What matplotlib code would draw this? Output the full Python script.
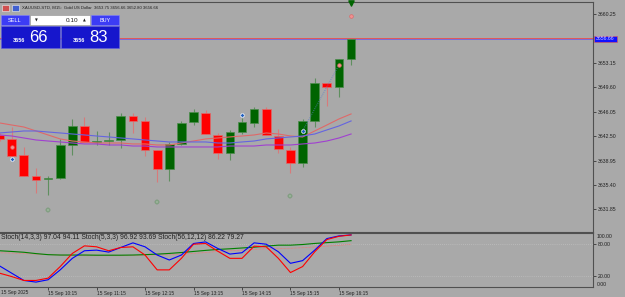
"""XAUUSD M15 chart with moving averages and stochastics, MetaTrader style."""

import matplotlib

matplotlib.use("Agg")
import matplotlib.pyplot as plt
from matplotlib.patches import Rectangle

W, H = 625, 297
BG = "#a9a9a9"
FONT = ["Liberation Sans", "DejaVu Sans"]

# 15 Sep 2025, bars from 09:15 to 16:30
OPEN = [3642.68, 3642.10, 3639.76, 3636.71, 3636.27, 3636.42, 3641.22, 3643.99, 3641.66, 3641.80,
        3641.95, 3645.44, 3644.72, 3640.49, 3637.73, 3641.37, 3644.57, 3645.88, 3642.68, 3640.06,
        3643.11, 3644.43, 3646.46, 3642.53, 3640.49, 3638.60, 3644.72, 3650.25, 3649.67, 3653.75]
HIGH = [3642.97, 3643.84, 3640.93, 3637.87, 3636.71, 3642.10, 3645.01, 3645.30, 3643.26, 3643.11,
        3645.88, 3645.88, 3645.30, 3640.55, 3641.66, 3644.72, 3646.46, 3646.32, 3642.97, 3643.41,
        3645.15, 3646.76, 3646.76, 3643.55, 3640.93, 3645.01, 3650.98, 3650.25, 3653.75, 3656.66]
LOW = [3641.80, 3639.47, 3636.65, 3634.23, 3633.94, 3636.27, 3639.76, 3641.66, 3641.22, 3641.22,
       3640.78, 3642.97, 3639.62, 3635.83, 3635.98, 3641.22, 3644.13, 3642.82, 3639.18, 3639.04,
       3642.82, 3643.84, 3642.68, 3640.06, 3637.14, 3638.02, 3643.84, 3646.90, 3648.21, 3652.80]
CLOSE = [3642.10, 3639.62, 3636.71, 3636.12, 3636.42, 3641.22, 3643.99, 3641.66, 3641.80, 3641.95,
         3645.44, 3644.72, 3640.49, 3637.73, 3641.37, 3644.43, 3646.03, 3642.82, 3640.06, 3643.11,
         3644.57, 3646.46, 3642.68, 3640.64, 3638.60, 3644.72, 3650.25, 3649.67, 3653.75, 3656.66]

MA_RED = [3644.43, 3644.13, 3643.84, 3643.26, 3642.68, 3642.10, 3641.80, 3641.66, 3641.51, 3641.51,
          3641.51, 3641.37, 3641.37, 3641.22, 3641.22, 3641.51, 3641.80, 3642.10, 3642.24, 3642.39,
          3642.53, 3642.68, 3642.97, 3642.82, 3642.53, 3642.39, 3643.26, 3644.13, 3645.01, 3645.74]
MA_BLUE = [3642.97, 3643.11, 3643.26, 3643.26, 3643.11, 3642.97, 3642.82, 3642.68, 3642.53, 3642.39,
           3642.24, 3642.10, 3641.95, 3641.80, 3641.66, 3641.66, 3641.66, 3641.66, 3641.51, 3641.51,
           3641.66, 3641.80, 3642.10, 3642.24, 3642.39, 3642.53, 3642.82, 3643.41, 3643.99, 3644.72]
MA_PURPLE = [3642.68, 3642.53, 3642.24, 3641.95, 3641.80, 3641.66, 3641.51, 3641.37, 3641.37, 3641.22,
             3641.22, 3641.07, 3641.07, 3640.93, 3640.93, 3640.93, 3640.93, 3640.93, 3640.93, 3641.07,
             3641.07, 3641.07, 3641.22, 3641.22, 3641.22, 3641.37, 3641.51, 3641.80, 3642.24, 3642.82]

STOCH_BLUE = [38.9, 25.3, 11.7, 8.6, 13.0, 31.5, 53.1, 67.3, 68.5, 64.8, 73.5, 82.1, 74.7, 59.3, 50.0,
              59.3, 80.9, 83.9, 71.6, 61.1, 63.6, 82.1, 79.6, 65.4, 43.8, 48.8, 68.5, 90.1, 95.1, 97.0]
STOCH_RED = [25.3, 19.0, 11.7, 11.7, 16.0, 37.7, 62.3, 76.5, 74.7, 67.3, 73.5, 74.7, 59.3, 31.5, 31.5,
             53.1, 79.6, 80.9, 66.5, 53.1, 53.1, 75.9, 74.7, 53.1, 26.5, 37.7, 65.4, 88.3, 94.4, 96.9]
STOCH_GREEN = [67.3, 66.0, 64.5, 62.0, 60.0, 59.3, 59.3, 59.3, 59.0, 59.0, 59.0, 59.3, 60.0, 61.0, 62.3,
               64.0, 66.0, 68.0, 69.8, 71.0, 72.5, 74.0, 76.0, 77.8, 77.8, 79.0, 81.0, 82.5, 84.0, 86.2]
STOCH_SIGNAL = [63.6, 63.0, 62.0, 61.0, 60.0, 59.3, 58.5, 58.0, 58.0, 58.0, 58.0, 58.5, 59.0, 59.3, 60.0,
                61.0, 62.5, 64.0, 66.0, 67.3, 68.5, 70.0, 71.0, 71.6, 72.0, 73.0, 74.5, 76.0, 77.5, 79.3]

PRICE_TICKS = [3631.85, 3635.40, 3638.95, 3642.50, 3646.05, 3649.60, 3653.15, 3660.25]
TIME_TICKS = [4, 8, 12, 16, 20, 24, 28]
TIME_LABELS = ["15 Sep 10:15", "15 Sep 11:15", "15 Sep 12:15", "15 Sep 13:15",
               "15 Sep 14:15", "15 Sep 15:15", "15 Sep 16:15"]

BID, ASK = 3656.66, 3656.83
ENTRY_IDX = [1, 20, 25]
ENTRY_PRICE = [3639.18, 3645.59, 3643.26]
EXIT_IDX = [1, 28, 29]
EXIT_PRICE = [3640.93, 3652.87, 3660.01]
STOP_IDX = [4, 13, 24]
STOP_PRICE = [3631.75, 3632.92, 3633.79]


def px_rect(left, top, right, bottom):
    return [left / W, 1 - bottom / H, (right - left) / W, (bottom - top) / H]


fig = plt.figure(figsize=(W / 100, H / 100), dpi=100, facecolor=BG)
ax = fig.add_axes(px_rect(0, 2, 593, 232), facecolor=BG)
ax2 = fig.add_axes(px_rect(0, 233.3, 593, 286.7), facecolor=BG)

# x: bar index, bar 0 sits just left of the window edge
XLIM = (0.033, 48.96)
idx = list(range(len(OPEN)))

for i, o, h, l, c in zip(idx, OPEN, HIGH, LOW, CLOSE):
    bull = c >= o
    ax.vlines(i, l, h, colors="#5f8f5f" if bull else "#d87a7a", linewidth=0.8, zorder=2)
    ax.bar(i, max(abs(c - o), 0.12), bottom=min(o, c), width=0.72,
           color="#006400" if bull else "#ff0000",
           edgecolor="#4c8c4c" if bull else "#e06a6a", linewidth=0.5, zorder=3)

ax.plot(idx, MA_RED, color="#e06868", linewidth=0.8, zorder=4)
ax.plot(idx, MA_BLUE, color="#6464e0", linewidth=0.8, zorder=4)
ax.plot(idx, MA_PURPLE, color="#a040d0", linewidth=0.8, zorder=4)

ax.axhline(BID, color="#7a6ad8", linewidth=0.7, zorder=1)
ax.axhline(ASK, color="#e05858", linewidth=0.7, zorder=1)

ax.plot([ENTRY_IDX[2], EXIT_IDX[1]], [ENTRY_PRICE[2], EXIT_PRICE[1]],
        color="#5a7ec8", linewidth=0.6, linestyle=(0, (1, 1.5)), zorder=5)
ax.scatter(ENTRY_IDX, ENTRY_PRICE, marker="P", s=9, color="#2060c0", edgecolors="white",
           linewidths=0.4, zorder=6)
ax.scatter(EXIT_IDX, EXIT_PRICE, marker="o", s=7, color="#f09090", edgecolors="#e06060",
           linewidths=0.4, zorder=6)
ax.scatter(STOP_IDX, STOP_PRICE, marker="P", s=6, color="#9ab09a", edgecolors="#5a8a5a",
           linewidths=0.3, zorder=6)
ax.scatter([29], [3661.9], marker="v", s=14, color="#006400", zorder=6, clip_on=False)

ax.set_xlim(*XLIM)
ax.set_ylim(3628.55, 3662.04)
ax.set_yticks(PRICE_TICKS)
ax.set_yticklabels([f"{p:.2f}" for p in PRICE_TICKS])
ax.yaxis.tick_right()
ax.tick_params(axis="y", direction="out", length=2.5, width=0.5, pad=1, labelsize=3.7,
               colors="#202020")
ax.set_xticks([])

# stochastics
ax2.axhline(80, color="#c8c8c8", linewidth=0.5, linestyle=(0, (1, 2)))
ax2.axhline(20, color="#c8c8c8", linewidth=0.5, linestyle=(0, (1, 2)))
ax2.plot(idx, STOCH_SIGNAL, color="#ff6a6a", linewidth=0.5, linestyle=(0, (1, 1)))
ax2.plot(idx, STOCH_GREEN, color="#008000", linewidth=0.8)
ax2.plot(idx, STOCH_BLUE, color="#0000ff", linewidth=0.8)
ax2.plot(idx, STOCH_RED, color="#ff0000", linewidth=0.8)
ax2.set_xlim(*XLIM)
ax2.set_ylim(0, 100)
ax2.set_yticks([20, 80])
ax2.set_yticklabels(["20.00", "80.00"])
ax2.yaxis.tick_right()
ax2.tick_params(axis="y", direction="out", length=2.5, width=0.5, pad=1, labelsize=3.7,
                colors="#202020")
ax2.set_xticks(TIME_TICKS)
ax2.set_xticklabels(TIME_LABELS, ha="left")
ax2.tick_params(axis="x", direction="out", length=2.5, width=0.5, pad=0.8, labelsize=3.4,
                colors="#202020")

for a in (ax, ax2):
    a.spines["left"].set_visible(False)
    for side in ("top", "right", "bottom"):
        a.spines[side].set_color("#505050")
        a.spines[side].set_linewidth(0.8)
    for lab in a.get_xticklabels() + a.get_yticklabels():
        lab.set_family(FONT)

# overlay in pixel coordinates for the terminal furniture
ov = fig.add_axes([0, 0, 1, 1])
ov.set_xlim(0, W)
ov.set_ylim(H, 0)
ov.axis("off")
ov.patch.set_alpha(0)

ov.add_patch(Rectangle((2, 5), 7, 6, facecolor="#d05050", edgecolor="#f0f0f0", linewidth=0.4))
ov.add_patch(Rectangle((12, 5), 7, 6, facecolor="#4060d0", edgecolor="#f0f0f0", linewidth=0.4))
ov.text(22, 8, "XAUUSD-STD, M15:  Gold US Dollar  3653.75 3656.66 3652.80 3656.66",
        fontsize=3.1, color="#202020", va="center", family=FONT)

ov.add_patch(Rectangle((1, 15), 28, 10, facecolor="#3c3cf5", edgecolor="#8080ff", linewidth=0.4))
ov.add_patch(Rectangle((30, 15), 60, 10, facecolor="white", edgecolor="#909090", linewidth=0.4))
ov.add_patch(Rectangle((91, 15), 28, 10, facecolor="#3c3cf5", edgecolor="#8080ff", linewidth=0.4))
ov.add_patch(Rectangle((1, 26), 59, 22, facecolor="#1616cc", edgecolor="#6060e0", linewidth=0.4))
ov.add_patch(Rectangle((61, 26), 58, 22, facecolor="#1616cc", edgecolor="#6060e0", linewidth=0.4))
ov.text(15, 20, "SELL", fontsize=4, color="white", ha="center", va="center", family=FONT)
ov.text(105, 20, "BUY", fontsize=4, color="white", ha="center", va="center", family=FONT)
ov.text(36, 20, "▼", fontsize=2.6, color="#202020", ha="center", va="center", family="DejaVu Sans")
ov.text(84, 20, "▲", fontsize=2.6, color="#202020", ha="center", va="center", family="DejaVu Sans")
ov.text(78, 20, "0.10", fontsize=4.6, color="#202020", ha="right", va="center", family=FONT)
ov.text(13, 41, "3656", fontsize=3.9, color="white", fontweight="bold", va="center", family=FONT)
ov.text(29, 37, "66", fontsize=12, color="white", va="center", family=FONT)
ov.text(73, 41, "3656", fontsize=3.9, color="white", fontweight="bold", va="center", family=FONT)
ov.text(89, 37, "83", fontsize=12, color="white", va="center", family=FONT)

ov.add_patch(Rectangle((594, 36), 23, 6, facecolor="#1010ff", edgecolor="#e05858", linewidth=0.4))
ov.text(595.5, 39, f"{BID:.2f}", fontsize=3.7, color="#d0d0ff", va="center", family=FONT)

ov.text(1, 237.5, "Stoch(14,3,3) 97.04 94.11 Stoch(5,3,3) 96.92 93.69 Stoch(56,12,12) 86.22 79.27",
        fontsize=4.9, color="#202020", va="center", family=FONT)
ov.text(597, 237, "100.00", fontsize=3.7, color="#202020", va="center", family=FONT)
ov.text(597, 284, "0.00", fontsize=3.7, color="#202020", va="center", family=FONT)
ov.text(1, 292.5, "15 Sep 2025", fontsize=3.4, color="#202020", va="center", family=FONT)

fig.savefig("out.png", dpi=100, facecolor=BG)
